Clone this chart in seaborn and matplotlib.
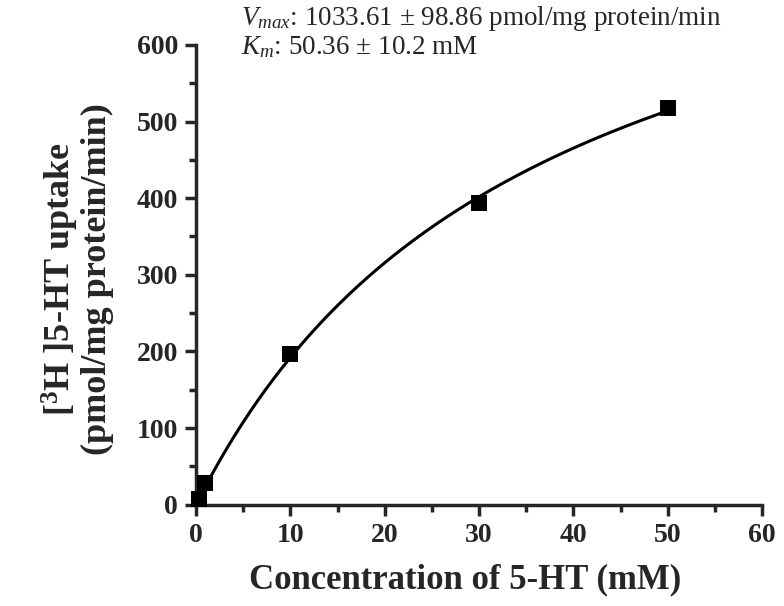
import numpy as np
import pandas as pd
import matplotlib
matplotlib.use("Agg")
import matplotlib.pyplot as plt
import seaborn as sns
from matplotlib.ticker import MultipleLocator

# ===============================
# Data
# ===============================
conc = [0.3, 1, 10, 30, 50]            # 5-HT concentration (mM)
uptake = [8, 28, 197, 394, 518]        # pmol/mg protein/min

vmax_text = r"$V_{max}$: 1033.61 $\pm$ 98.86 pmol/mg protein/min"
km_text = r"$K_m$: 50.36 $\pm$ 10.2 mM"

df = pd.DataFrame({"conc": conc, "uptake": uptake})

# ===============================
# Michaelis-Menten fit (grid over Km, Vmax closed form)
# ===============================
x = df.conc.values
y = df.uptake.values
best = None
for km in np.linspace(1, 200, 4000):
    f = x / (km + x)
    vm = (y * f).sum() / (f * f).sum()
    sse = ((y - vm * f) ** 2).sum()
    if best is None or sse < best[0]:
        best = (sse, km, vm)
_, km_fit, vm_fit = best
xs = np.linspace(0, 50, 300)
fit = pd.DataFrame({"conc": xs, "uptake": vm_fit * xs / (km_fit + xs)})

# ===============================
# Plot
# ===============================
sns.set_style("ticks")
plt.rcParams["font.family"] = ["Liberation Serif", "DejaVu Serif"]
plt.rcParams["mathtext.fontset"] = "custom"
plt.rcParams["mathtext.rm"] = "Liberation Serif"
plt.rcParams["mathtext.it"] = "Liberation Serif:italic"
plt.rcParams["mathtext.bf"] = "Liberation Serif:bold"

fig = plt.figure(figsize=(7.84, 6.06), dpi=100)
ax = fig.add_axes([0.25, 0.167, 0.722, 0.759])

sns.lineplot(data=fit, x="conc", y="uptake", color="black", linewidth=2.2, ax=ax)
sns.scatterplot(data=df, x="conc", y="uptake", marker="s", s=140, color="black",
                edgecolor="black", linewidth=0, ax=ax, zorder=5, clip_on=False)

ax.set_xlim(0, 60)
ax.set_ylim(0, 600)
ax.xaxis.set_major_locator(MultipleLocator(10))
ax.xaxis.set_minor_locator(MultipleLocator(5))
ax.yaxis.set_major_locator(MultipleLocator(100))
ax.yaxis.set_minor_locator(MultipleLocator(50))

sns.despine(ax=ax)
for s in ["left", "bottom"]:
    ax.spines[s].set_linewidth(2.5)
ax.tick_params(which="major", length=8, width=2.5, direction="out", labelsize=20, pad=5)
ax.tick_params(which="minor", length=5, width=2.5, direction="out")
for lab in ax.get_xticklabels() + ax.get_yticklabels():
    lab.set_fontweight("bold")

ax.set_xlabel("Concentration of 5-HT (mM)", fontsize=25, fontweight="bold")
ax.xaxis.set_label_coords(0.476, -0.128)
ax.set_ylabel("[$\\mathbf{^3}$H ]5-HT uptake\n(pmol/mg protein/min)", fontsize=26,
              fontweight="bold", linespacing=1.0)
ax.yaxis.set_label_coords(-0.145, 0.49)

ax.text(0.08, 1.058, vmax_text, transform=ax.transAxes, fontsize=19.5, va="center")
ax.text(0.08, 0.996, km_text, transform=ax.transAxes, fontsize=19.5, va="center")

fig.savefig("out.png", dpi=100)
